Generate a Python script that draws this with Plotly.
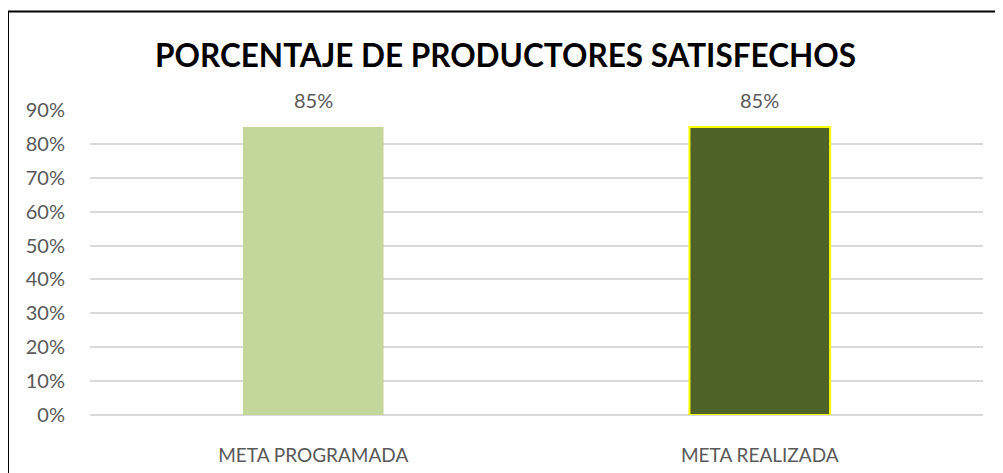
import plotly.graph_objects as go

categories = ["META PROGRAMADA", "META REALIZADA"]
values = [0.85, 0.85]
labels = ["85%", "85%"]
tick_vals = [0, 0.1, 0.2, 0.3, 0.4, 0.5, 0.6, 0.7, 0.8, 0.9]
tick_text = ["0%", "10%", "20%", "30%", "40%", "50%", "60%", "70%", "80%", "90%"]

font_family = "Lato, 'Open Sans', sans-serif"
text_grey = "#595959"

fig = go.Figure()
fig.add_trace(go.Bar(
    x=categories,
    y=values,
    marker=dict(
        color=["#C4D79B", "#4F6228"],
        line=dict(color=["rgba(0,0,0,0)", "#FFFF00"], width=[0, 2]),
    ),
    width=0.315,
    hoverinfo="x+y",
))

# data labels sit well above the bars, as in the original
for cat, val, lab in zip(categories, values, labels):
    fig.add_annotation(
        x=cat, y=val, text=lab, showarrow=False,
        yanchor="middle", yshift=27,
        font=dict(size=20, color=text_grey, family=font_family),
    )

# page body adds an 8px offset, so the figure is sized to the rest of the window
fig.update_layout(
    width=995,
    height=465,
    margin=dict(l=82, r=20, t=102, b=58, autoexpand=False),
    paper_bgcolor="white",
    plot_bgcolor="white",
    showlegend=False,
    title=dict(
        text="<b>PORCENTAJE DE PRODUCTORES SATISFECHOS</b>",
        x=0.5,
        xanchor="center",
        y=0.897,
        yanchor="middle",
        font=dict(size=31.5, color="black", family=font_family),
    ),
    xaxis=dict(
        automargin=False,
        showgrid=False,
        showline=False,
        ticks="",
        ticklabelstandoff=27,
        tickfont=dict(size=19, color=text_grey, family=font_family),
    ),
    yaxis=dict(
        automargin=False,
        range=[0, 0.9],
        tickvals=tick_vals,
        ticktext=tick_text,
        showgrid=True,
        gridcolor="#D9D9D9",
        gridwidth=1.5,
        zeroline=True,
        zerolinecolor="#D9D9D9",
        zerolinewidth=1.5,
        ticks="",
        ticklabelstandoff=24,
        tickfont=dict(size=20, color=text_grey, family=font_family),
    ),
    shapes=[dict(
        type="rect",
        xref="paper",
        yref="paper",
        x0=-0.0918,
        x1=1.1,
        y0=-0.4,
        y1=1.323,
        line=dict(color="black", width=2),
        fillcolor="rgba(0,0,0,0)",
        layer="above",
    )],
)

fig.write_html("out.html")
